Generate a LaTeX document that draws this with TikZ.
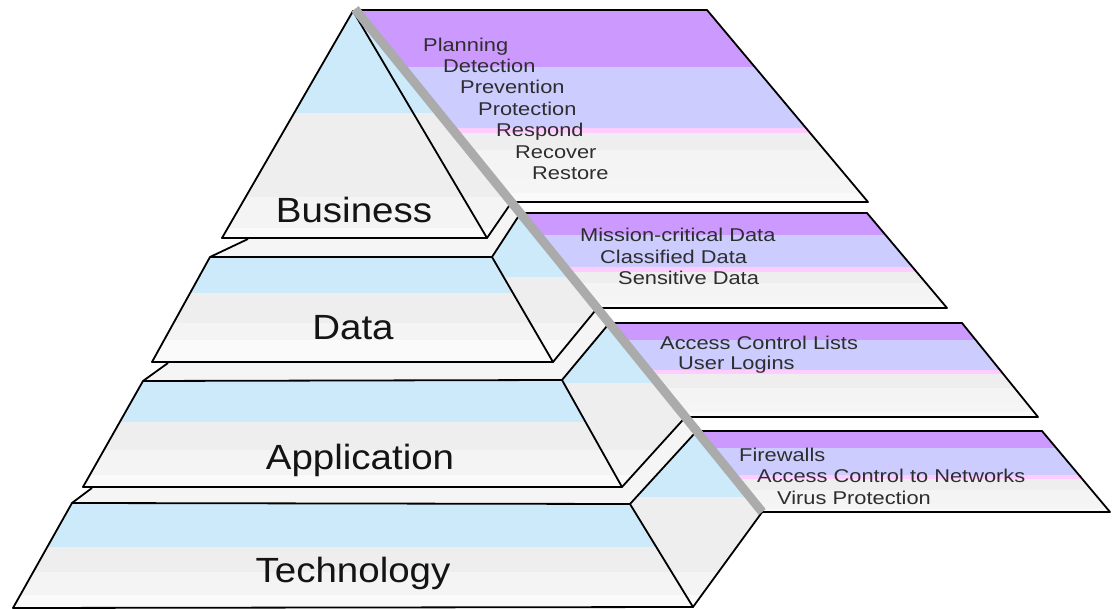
\documentclass[tikz,border=0pt]{standalone}
\usepackage{fontspec}
\setmainfont{Liberation Sans}
\begin{document}
\begin{tikzpicture}[x=1pt,y=-1pt,line join=round]
% palette
\definecolor{sky}{HTML}{CCEAF9}
\definecolor{greyA}{HTML}{EEEEEE}
\definecolor{greyB}{HTML}{F4F4F4}
\definecolor{greyC}{HTML}{FAFAFA}
\definecolor{strip}{HTML}{F5F5F5}
\definecolor{violet}{HTML}{CC99FF}
\definecolor{lavender}{HTML}{CCCCFF}
\definecolor{blush}{HTML}{FFCCFF}
\definecolor{hinge}{HTML}{ABABAB}
\definecolor{ink}{HTML}{2E2E2E}
\tikzset{
  edge/.style={draw=black,line width=1.8pt},
  layerlabel/.style={font=\fontsize{35}{40}\selectfont,text=black!92,anchor=base,inner sep=0pt},
  paneltext/.style={font=\fontsize{18.5}{21}\selectfont,text=ink,anchor=base west,inner sep=0pt}
}
\newcommand{\band}[3]{\fill[#1] (0,#2) rectangle (1112,#3);}
\useasboundingbox (0,0) rectangle (1112,609);
\fill[white] (0,0) rectangle (1112,609);

% ---------------- Technology layer ----------------
\fill[strip] (72,503)--(92,488)--(622,487)--(685.5,417)--(696.8,431)--(630,504)--cycle;
\begin{scope}
  \clip (630,504)--(696.8,431)--(762.2,512)--(693,607)--cycle;
  \band{sky}{425}{497}\band{greyA}{497}{572}\band{greyB}{572}{595}\band{greyC}{595}{610}
\end{scope}
\begin{scope}
  \clip (72,503)--(630,504)--(693,607)--(13,608)--cycle;
  \band{sky}{500}{547}\band{greyA}{547}{572}\band{greyB}{572}{595}\band{greyC}{595}{610}
\end{scope}
\draw[edge] (72,503)--(630,504)--(693,607)--(13,608)--cycle;
\draw[edge] (630,504)--(696.8,431);
\draw[edge] (693,607)--(762.2,512);
\draw[edge] (72,503)--(92,488);

% ---------------- Application layer ----------------
\fill[strip] (143,381)--(168,363)--(553,362)--(597.4,308)--(609.5,323)--(562,380)--cycle;
\begin{scope}
  \clip (562,380)--(609.5,323)--(685.5,417)--(622,487)--cycle;
  \band{sky}{318}{383}\band{greyA}{383}{450}\band{greyB}{450}{475}\band{greyC}{475}{490}
\end{scope}
\begin{scope}
  \clip (143,381)--(562,380)--(622,487)--(83,487)--cycle;
  \band{sky}{378}{422}\band{greyA}{422}{450}\band{greyB}{450}{475}\band{greyC}{475}{490}
\end{scope}
\draw[edge] (143,381)--(562,380)--(622,487)--(83,487)--cycle;
\draw[edge] (562,380)--(609.5,323);
\draw[edge] (622,487)--(685.5,417);
\draw[edge] (143,381)--(168,363);

% ---------------- Data layer ----------------
\fill[strip] (210,257)--(248,238)--(487,238)--(511.8,202)--(520.6,213)--(492,257)--cycle;
\begin{scope}
  \clip (492,257)--(520.6,213)--(597.4,308)--(553,362)--cycle;
  \band{sky}{208}{277}\band{greyA}{277}{323}\band{greyB}{323}{340}\band{greyC}{340}{365}
\end{scope}
\begin{scope}
  \clip (210,257)--(492,257)--(553,362)--(152,362)--cycle;
  \band{sky}{254}{293}\band{greyA}{293}{323}\band{greyB}{323}{340}\band{greyC}{340}{365}
\end{scope}
\draw[edge] (210,257)--(492,257)--(553,362)--(152,362)--cycle;
\draw[edge] (492,257)--(520.6,213);
\draw[edge] (553,362)--(597.4,308);
\draw[edge] (210,257)--(248,239);

% ---------------- Business layer ----------------
\begin{scope}
  \clip (353,11)--(222,238)--(487,238)--(511.8,202)--(356,8)--cycle;
  \band{sky}{0}{113}\band{greyA}{113}{197}\band{greyB}{197}{228}\band{greyC}{228}{240}
\end{scope}
\draw[edge] (353,11)--(487,238)--(222,238)--cycle;
\draw[edge] (487,238)--(511.8,202);

% ---------------- Folded-out lids ----------------
\begin{scope}
  \clip (356.6,10)--(707,10)--(868,202)--(511.8,202)--cycle;
  \band{violet}{8}{67}\band{lavender}{67}{128}\band{blush}{128}{133}
  \band{greyA}{133}{150}\band{greyB}{150}{178}\band{white!96!black}{178}{193}\band{greyC}{193}{204}
\end{scope}
\draw[edge] (356.6,10)--(707,10)--(868,202)--(511.8,202);

\begin{scope}
  \clip (520.6,213)--(867,213)--(947,308)--(597.4,308)--cycle;
  \band{violet}{211}{235}\band{lavender}{235}{267}\band{blush}{267}{272}
  \band{greyA}{272}{283}\band{greyB}{283}{297}\band{white!96!black}{297}{304}\band{greyC}{304}{310}
\end{scope}
\draw[edge] (520.6,213)--(867,213)--(947,308)--(597.4,308);

\begin{scope}
  \clip (609.5,323)--(962,323)--(1038,417)--(685.5,417)--cycle;
  \band{violet}{321}{340}\band{lavender}{340}{370}\band{blush}{370}{374}
  \band{greyA}{374}{388}\band{greyB}{388}{403}\band{white!96!black}{403}{412}\band{greyC}{412}{419}
\end{scope}
\draw[edge] (609.5,323)--(962,323)--(1038,417)--(685.5,417);

\begin{scope}
  \clip (696.8,431)--(1042,431)--(1110,512)--(762.2,512)--cycle;
  \band{violet}{429}{448}\band{lavender}{448}{475}\band{blush}{475}{479}
  \band{greyA}{479}{490}\band{greyB}{490}{503}\band{white!96!black}{503}{509}\band{greyC}{509}{514}
\end{scope}
\draw[edge] (696.8,431)--(1042,431)--(1110,512)--(762.2,512);

% hinge along the back edge
\draw[hinge,line width=9pt] (355,9)--(762.2,512);

% ---------------- Labels ----------------
\node[layerlabel] (business) at (354,223) {\scalebox{1.1}[1]{Business}};
\node[layerlabel] (data) at (353,340) {\scalebox{1.1}[1]{Data}};
\node[layerlabel] (application) at (360,470) {\scalebox{1.1}[1]{Application}};
\node[layerlabel] (technology) at (353,582) {\scalebox{1.1}[1]{Technology}};

\node[paneltext] (planning) at (423,51.5) {\scalebox{1.18}[1]{Planning}};
\node[paneltext] (detection) at (443,72.5) {\scalebox{1.18}[1]{Detection}};
\node[paneltext] (prevention) at (460,94) {\scalebox{1.18}[1]{Prevention}};
\node[paneltext] (protection) at (478,115.5) {\scalebox{1.18}[1]{Protection}};
\node[paneltext] (respond) at (496,137) {\scalebox{1.18}[1]{Respond}};
\node[paneltext] (recover) at (515,158.5) {\scalebox{1.18}[1]{Recover}};
\node[paneltext] (restore) at (532,180) {\scalebox{1.18}[1]{Restore}};

\node[paneltext] (mission) at (580,242) {\scalebox{1.18}[1]{Mission-critical Data}};
\node[paneltext] (classified) at (600,263.5) {\scalebox{1.18}[1]{Classified Data}};
\node[paneltext] (sensitive) at (618,284.5) {\scalebox{1.18}[1]{Sensitive Data}};

\node[paneltext] (acl) at (660,350) {\scalebox{1.18}[1]{Access Control Lists}};
\node[paneltext] (logins) at (678,369.5) {\scalebox{1.18}[1]{User Logins}};

\node[paneltext] (firewalls) at (739,462) {\scalebox{1.18}[1]{Firewalls}};
\node[paneltext] (netaccess) at (757,483) {\scalebox{1.18}[1]{Access Control to Networks}};
\node[paneltext] (virus) at (777,505) {\scalebox{1.18}[1]{Virus Protection}};
\end{tikzpicture}
\end{document}
